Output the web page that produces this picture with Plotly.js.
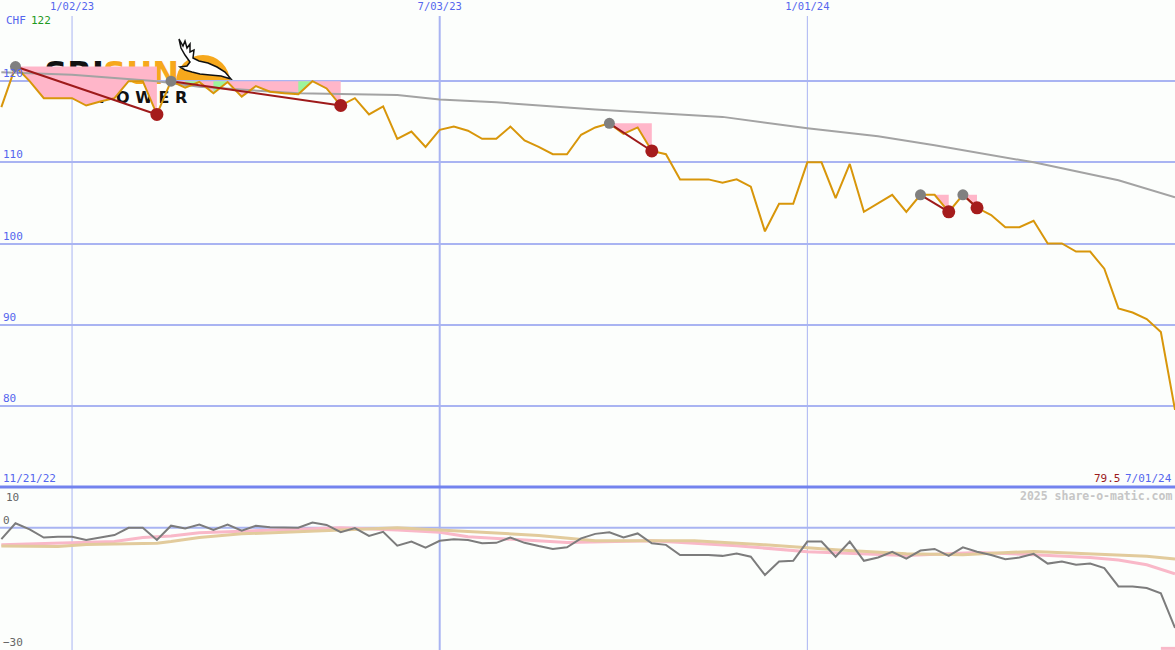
<!DOCTYPE html>
<html>
<head>
<meta charset="utf-8">
<script src="https://cdn.plot.ly/plotly-3.0.1.min.js"></script>
<style>
  html, body { margin: 0; padding: 0; background: #fcfefc; }
  #chart { width: 1175px; height: 650px; }
</style>
</head>
<body>
<div id="chart"></div>
<script>
// ---------- DATA ----------
const dates = [
  '2022-11-28','2022-12-05','2022-12-12','2022-12-19','2022-12-26',
  '2023-01-02','2023-01-09','2023-01-16','2023-01-23','2023-01-30',
  '2023-02-06','2023-02-13','2023-02-20','2023-02-27','2023-03-06',
  '2023-03-13','2023-03-20','2023-03-27','2023-04-03','2023-04-10',
  '2023-04-17','2023-04-24','2023-05-01','2023-05-08','2023-05-15',
  '2023-05-22','2023-05-29','2023-06-05','2023-06-12','2023-06-19',
  '2023-06-26','2023-07-03','2023-07-10','2023-07-17','2023-07-24',
  '2023-07-31','2023-08-07','2023-08-14','2023-08-21','2023-08-28',
  '2023-09-04','2023-09-11','2023-09-18','2023-09-25','2023-10-02',
  '2023-10-09','2023-10-16','2023-10-23','2023-10-30','2023-11-06',
  '2023-11-13','2023-11-20','2023-11-27','2023-12-04','2023-12-11',
  '2023-12-18','2023-12-25','2024-01-01','2024-01-08','2024-01-15',
  '2024-01-22','2024-01-29','2024-02-05','2024-02-12','2024-02-19',
  '2024-02-26','2024-03-04','2024-03-11','2024-03-18','2024-03-25',
  '2024-04-01','2024-04-08','2024-04-15','2024-04-22','2024-04-29',
  '2024-05-06','2024-05-13','2024-05-20','2024-05-27','2024-06-03',
  '2024-06-10','2024-06-17','2024-06-24','2024-07-01'
];

// weekly close, CHF
const price = [
  116.8, 121.8, 120.0, 117.9, 117.9, 117.9, 117.0, 117.5, 117.9, 120.0,
  120.0, 115.9, 120.0, 119.2, 119.9, 118.5, 119.9, 118.1, 119.4, 118.7,
  118.5, 118.4, 120.0, 119.1, 117.0, 117.9, 115.9, 116.9, 112.9, 113.8,
  111.9, 114.0, 114.4, 113.9, 112.9, 112.9, 114.4, 112.7, 111.9, 111.0,
  111.0, 113.4, 114.3, 114.8, 113.5, 114.3, 111.4, 111.0, 107.9, 107.9,
  107.9, 107.5, 107.9, 107.0, 101.5, 104.9, 104.9, 110.0, 110.0, 105.6,
  109.8, 103.9, 104.9, 106.0, 103.9, 106.0, 106.0, 103.9, 106.0, 104.4,
  103.5, 102.0, 102.0, 102.8, 100.0, 100.0, 99.0, 99.0, 96.9, 92.0,
  91.5, 90.7, 89.1, 79.5
];

// long moving average (grey line, top panel)
const maIdx = [0, 5, 11, 14, 21, 28, 31, 35, 42, 51, 57, 62, 66, 73, 79, 83];
const maVal = [121.1, 120.8, 120.0, 119.3, 118.5, 118.3, 117.75, 117.4, 116.5, 115.6, 114.2, 113.2, 112.1, 110.0, 107.8, 105.7];

// relative performance (bottom panel, grey)
const rel = [
  -2.8, 1.1, -0.4, -2.4, -2.2, -2.2, -3.0, -2.4, -1.8, 0.0,
  0.0, -3.0, 0.5, -0.2, 0.8, -0.55, 0.8, -0.7, 0.5, 0.1,
  0.0, 0.0, 1.3, 0.7, -1.1, -0.1, -2.0, -1.0, -4.4, -3.4,
  -4.9, -3.2, -2.8, -3.0, -3.8, -3.7, -2.4, -3.7, -4.5, -5.2,
  -4.8, -2.6, -1.5, -1.1, -2.4, -1.4, -3.8, -4.2, -6.7, -6.7,
  -6.7, -6.9, -6.3, -7.1, -11.6, -8.3, -8.1, -3.4, -3.4, -7.1,
  -3.4, -8.1, -7.3, -5.9, -7.6, -5.6, -5.2, -6.9, -4.8, -5.9,
  -6.7, -7.7, -7.3, -6.4, -8.8, -8.3, -9.1, -8.8, -9.9, -14.4,
  -14.4, -14.8, -16.1, -24.6
];

// bottom panel averages
const pinkIdx = [0, 5, 8, 10, 12, 14, 19, 24, 28, 31, 33, 38, 40, 46, 52, 57, 64, 69, 73, 77, 79, 81, 83];
const pinkVal = [-4.2, -3.8, -3.4, -2.4, -2.0, -1.2, -0.55, 0.0, -0.55, -1.1, -2.2, -3.2, -3.6, -3.2, -4.4, -5.9, -6.8, -6.1, -6.6, -7.3, -7.9, -9.1, -11.3];
const tanIdx = [0, 4, 6, 11, 12, 14, 17, 21, 24, 28, 33, 38, 42, 49, 54, 59, 64, 68, 73, 77, 81, 83];
const tanVal = [-4.5, -4.6, -4.1, -3.8, -3.4, -2.4, -1.5, -0.9, -0.55, 0.0, -0.9, -1.9, -3.2, -3.2, -4.2, -5.4, -6.4, -6.6, -5.8, -6.4, -7.0, -7.7];

// signal mark at the bottom edge
const signalIdx = [82, 83];
const signalVal = [-29.6, -29.6];

// drawdowns: peak index -> trough index
const ddPeak = [1, 12, 43, 65, 68];
const ddTrough = [11, 24, 46, 67, 69];
// green stretches inside the 2nd drawdown
const greenOf = [1, 1, 1];
const greenFrom = [13, 15, 21];
const greenTo = [14, 16, 22];

const tickDates = ['2023-01-02', '2023-07-03', '2024-01-01'];
const tickWidths = [1, 2, 1];
const yTicks = [80, 90, 100, 110, 120];
const relTicks = [-30, 0];

const currency = 'CHF';
const maxLabel = '122';
const startLabel = '11/21/22';
const lastLabel = '79.5';
const endLabel = '7/01/24';
const credit = '2025 share-o-matic.com';
const logoTop = ['SRI', 'SUN'];
const logoBottom = 'P O W E R';

// ---------- CHART ----------
const W = 1175, H = 650;
const split = 163 / 650; // bottom panel height fraction
const BLUE = '#5566ee';
const GRID = '#a9b4f2';
const MONO = 'DejaVu Sans Mono, monospace';
const px = (x, y) => [x / W, 1 - y / H];

const traces = [];

// pink drawdown fills
for (let d = 0; d < ddPeak.length; d++) {
  const s = ddPeak[d], e = ddTrough[d], lvl = price[s];
  const xs = dates.slice(s, e + 1).concat([dates[e], dates[s]]);
  const ys = price.slice(s, e + 1).concat([lvl, lvl]);
  traces.push({x: xs, y: ys, xaxis: 'x', yaxis: 'y', mode: 'lines', fill: 'toself',
    fillcolor: '#ffb6c9', line: {width: 0}, hoverinfo: 'skip'});
}
// green fills
for (let g = 0; g < greenFrom.length; g++) {
  const lvl = price[ddPeak[greenOf[g]]];
  const s = greenFrom[g], e = greenTo[g];
  const xs = dates.slice(s, e + 1).concat([dates[e], dates[s]]);
  const ys = price.slice(s, e + 1).concat([lvl, lvl]);
  traces.push({x: xs, y: ys, xaxis: 'x', yaxis: 'y', mode: 'lines', fill: 'toself',
    fillcolor: '#9cf59c', line: {width: 0}, hoverinfo: 'skip'});
}
// moving average
traces.push({x: maIdx.map(i => dates[i]), y: maVal, xaxis: 'x', yaxis: 'y', mode: 'lines',
  line: {color: '#a3a3a3', width: 2}});
// price
traces.push({x: dates, y: price, xaxis: 'x', yaxis: 'y', mode: 'lines',
  line: {color: '#d8960a', width: 2}});
// drawdown connectors
for (let d = 0; d < ddPeak.length; d++) {
  traces.push({x: [dates[ddPeak[d]], dates[ddTrough[d]]], y: [price[ddPeak[d]], price[ddTrough[d]]],
    xaxis: 'x', yaxis: 'y', mode: 'lines', line: {color: '#9e1a1a', width: 2}});
}
traces.push({x: ddPeak.map(i => dates[i]), y: ddPeak.map(i => price[i]), xaxis: 'x', yaxis: 'y',
  mode: 'markers', marker: {color: '#808080', size: 11}});
traces.push({x: ddTrough.map(i => dates[i]), y: ddTrough.map(i => price[i]), xaxis: 'x', yaxis: 'y',
  mode: 'markers', marker: {color: '#a51c1c', size: 13}});

// bottom panel
traces.push({x: pinkIdx.map(i => dates[i]), y: pinkVal, xaxis: 'x2', yaxis: 'y2', mode: 'lines',
  line: {color: '#f9b8c8', width: 3}});
traces.push({x: tanIdx.map(i => dates[i]), y: tanVal, xaxis: 'x2', yaxis: 'y2', mode: 'lines',
  line: {color: '#e2cb9c', width: 3}});
traces.push({x: dates, y: rel, xaxis: 'x2', yaxis: 'y2', mode: 'lines',
  line: {color: '#7c7c7c', width: 2}});
traces.push({x: signalIdx.map(i => dates[i]), y: signalVal, xaxis: 'x2', yaxis: 'y2', mode: 'lines',
  line: {color: '#f9b8c8', width: 3}});

// logo pieces (behind the data)
const birdPts = [[179,39],[183,46],[185,41],[187,48],[190,44],[190,52],[194,50],[193,58],[199,61],
  [208,63],[217,67],[225,72],[231,79],[221,76],[210,75],[200,74],[192,72],[185,70],[180,67],
  [187,66],[190,62],[185,55],[181,48]];
const birdPath = 'M ' + birdPts.map(p => px(p[0], p[1]).join(',')).join(' L ') + ' Z';

const shapes = [
  {type: 'circle', xref: 'paper', yref: 'paper', x0: 176 / W, x1: 230 / W, y0: 1 - 109 / H, y1: 1 - 55 / H,
    fillcolor: '#f6a81c', line: {width: 0}, layer: 'below'},
  {type: 'rect', xref: 'paper', yref: 'paper', x0: 172 / W, x1: 234 / W, y0: 1 - 112 / H, y1: 1 - 82.5 / H,
    fillcolor: '#fcfefc', line: {width: 0}, layer: 'below'},
  {type: 'path', xref: 'paper', yref: 'paper', path: birdPath, fillcolor: '#ffffff',
    line: {color: '#111111', width: 1.5}, layer: 'below'},
  {type: 'rect', xref: 'paper', yref: 'paper', x0: 36 / W, x1: 112 / W, y0: 1 - 86 / H, y1: 1 - 56 / H,
    line: {width: 0}, fillcolor: 'rgba(0,0,0,0)', layer: 'below',
    label: {text: logoTop[0], font: {family: 'DejaVu Sans', size: 32, color: '#111111', weight: 'bold'},
      textposition: 'middle center', padding: 0}},
  {type: 'rect', xref: 'paper', yref: 'paper', x0: 108 / W, x1: 174 / W, y0: 1 - 86 / H, y1: 1 - 56 / H,
    line: {width: 0}, fillcolor: 'rgba(0,0,0,0)', layer: 'below',
    label: {text: logoTop[1], font: {family: 'DejaVu Sans', size: 32, color: '#f6a81c', weight: 'bold'},
      textposition: 'middle center', padding: 0}},
  {type: 'rect', xref: 'paper', yref: 'paper', x0: 96 / W, x1: 190 / W, y0: 1 - 104 / H, y1: 1 - 88 / H,
    line: {width: 0}, fillcolor: 'rgba(0,0,0,0)', layer: 'below',
    label: {text: logoBottom, font: {family: 'DejaVu Sans', size: 16, color: '#111111', weight: 'bold'},
      textposition: 'middle center', padding: 0}},
  // zero line of bottom panel
  {type: 'line', xref: 'paper', yref: 'y2', x0: 0, x1: 1, y0: 0, y1: 0,
    line: {color: GRID, width: 2}, layer: 'below'},
  // panel separator
  {type: 'line', xref: 'paper', yref: 'paper', x0: 0, x1: 1, y0: split, y1: split,
    line: {color: '#7383ee', width: 3}, layer: 'above'}
];
// vertical date grid lines (top panel starts below the date labels)
tickDates.forEach((d, i) => {
  shapes.unshift({type: 'line', xref: 'x', yref: 'paper', x0: d, x1: d, y0: split, y1: 1 - 16 / H,
    line: {color: GRID, width: tickWidths[i]}, layer: 'below'});
  shapes.unshift({type: 'line', xref: 'x', yref: 'paper', x0: d, x1: d, y0: 0, y1: split,
    line: {color: GRID, width: tickWidths[i]}, layer: 'below'});
});

const annotations = [
  {text: currency, xref: 'paper', yref: 'paper', x: 4 / W, y: 1 - 20 / H, xanchor: 'left', yanchor: 'middle',
    showarrow: false, font: {family: MONO, size: 11, color: BLUE}},
  {text: maxLabel, xref: 'paper', yref: 'paper', x: 29 / W, y: 1 - 20 / H, xanchor: 'left', yanchor: 'middle',
    showarrow: false, font: {family: MONO, size: 11, color: '#1f9a1f'}},
  {text: startLabel, xref: 'paper', yref: 'paper', x: 1 / W, y: 1 - 478 / H, xanchor: 'left', yanchor: 'middle',
    showarrow: false, font: {family: MONO, size: 11, color: BLUE}},
  {text: lastLabel, xref: 'paper', yref: 'paper', x: 1123 / W, y: 1 - 478 / H, xanchor: 'right', yanchor: 'middle',
    showarrow: false, font: {family: MONO, size: 11, color: '#9b1b1b'}},
  {text: endLabel, xref: 'paper', yref: 'paper', x: 1174 / W, y: 1 - 478 / H, xanchor: 'right', yanchor: 'middle',
    showarrow: false, font: {family: MONO, size: 11, color: BLUE}},
  {text: credit, xref: 'paper', yref: 'paper', x: 1174 / W, y: 1 - 496 / H, xanchor: 'right', yanchor: 'middle',
    showarrow: false, font: {family: MONO, size: 11.5, color: '#c6c6c6', weight: 'bold'}},
  {text: '10', xref: 'paper', yref: 'y2', x: 4 / W, y: 10, xanchor: 'left', yanchor: 'top', yshift: -2,
    showarrow: false, font: {family: MONO, size: 11, color: '#666666'}}
];

const xRange = ['2022-11-27 08:00', '2024-07-01'];
const layout = {
  width: W, height: H,
  margin: {l: 0, r: 0, t: 0, b: 0, pad: 0},
  paper_bgcolor: '#fcfefc', plot_bgcolor: '#fcfefc',
  showlegend: false, hovermode: false,
  xaxis: {type: 'date', range: xRange, domain: [0, 1], anchor: 'y', side: 'top',
    tickvals: tickDates, tickformat: '%-m/%d/%y', ticklabelposition: 'inside', ticks: '',
    showgrid: false, zeroline: false, showline: false,
    tickfont: {family: MONO, size: 10.5, color: BLUE}},
  xaxis2: {type: 'date', range: xRange, domain: [0, 1], anchor: 'y2', matches: 'x',
    tickvals: tickDates, showticklabels: false, ticks: '',
    showgrid: false, zeroline: false, showline: false},
  yaxis: {domain: [split, 1], range: [70, 130], anchor: 'x', tickvals: yTicks,
    ticklabelposition: 'inside top', ticks: '', showgrid: true, gridcolor: GRID, gridwidth: 2,
    zeroline: false, showline: false, tickfont: {family: MONO, size: 11, color: BLUE}},
  yaxis2: {domain: [0, split], range: [-30, 10], anchor: 'x2', tickvals: relTicks,
    ticklabelposition: 'inside top', ticks: '', showgrid: false,
    zeroline: false, showline: false, tickfont: {family: MONO, size: 11, color: '#666666'}},
  shapes: shapes,
  annotations: annotations
};

Plotly.newPlot('chart', traces, layout, {displayModeBar: false, staticPlot: true});
</script>
</body>
</html>
